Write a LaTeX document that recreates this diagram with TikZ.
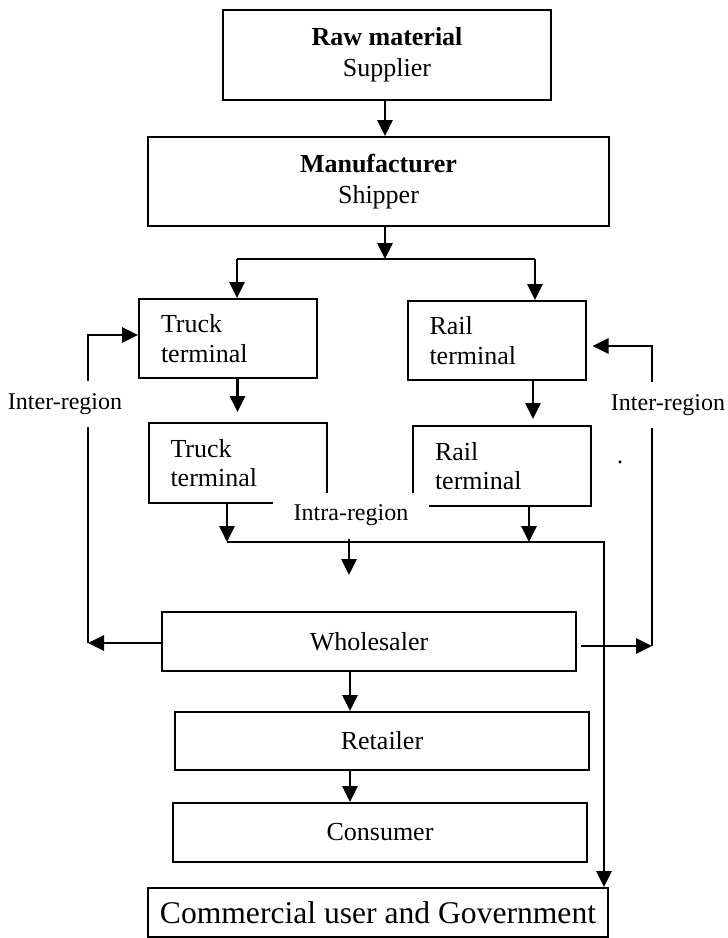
\documentclass[tikz,border=0pt]{standalone}
\usepackage{fontspec}
\setmainfont{Liberation Serif}
\usetikzlibrary{arrows.meta,backgrounds}
\begin{document}
\begin{tikzpicture}[x=0.5pt,y=-0.5pt,
  box/.style={draw,line width=1pt,inner sep=0pt,font=\fontsize{13}{15.5}\selectfont,align=center},
  termbox/.style={box,align=left,text width=67pt,inner xsep=11pt,inner ysep=0pt,
    minimum height=39.5pt,font=\fontsize{13}{14.8}\selectfont},
  lab/.style={font=\fontsize{12}{14}\selectfont,fill=white,inner xsep=1pt,inner ysep=0pt},
  conn/.style={line width=1.35pt},
  arr/.style={conn,-{Triangle[length=8pt,width=7.5pt]}}]
\useasboundingbox (0,0) rectangle (728,938);

% boxes
\node[box,minimum width=164pt,minimum height=45pt] (raw) at (387,55)
  {\textbf{Raw material}\\Supplier};
\node[box,minimum width=230.5pt,minimum height=44.5pt] (man) at (378.5,181.5)
  {\textbf{Manufacturer}\\Shipper};
\node[termbox] (t1) at (228,338.5) {Truck\\terminal};
\node[termbox,minimum height=40pt] (t2) at (237.5,463) {Truck\\terminal};
\node[termbox] (r1) at (496.5,340.5) {Rail\\terminal};
\node[termbox,minimum height=40pt] (r2) at (502,466) {Rail\\terminal};
\node[box,minimum width=207pt,minimum height=29.5pt] (wh) at (369,641.5) {Wholesaler};
\node[box,minimum width=207pt,minimum height=29pt] (ret) at (382,741) {Retailer};
\node[box,minimum width=207pt,minimum height=29.5pt] (con) at (380,832.5) {Consumer};
\node[box,minimum width=230pt,minimum height=24.5pt,font=\fontsize{15.8}{18}\selectfont]
  (com) at (378,912.5) {Commercial user and Government};

% labels
\node[lab,minimum width=78pt,minimum height=23pt] (intra) at (351,515.5) {Intra-region};
\node[lab,minimum height=23pt] (linter) at (65,404) {Inter-region};
\node[lab,minimum height=23pt] (rinter) at (668,405) {Inter-region};
\node[font=\fontsize{12}{14}\selectfont,inner sep=0pt] (dot) at (620,462) {.};

% coordinates
\coordinate (sp) at (385,259);
\coordinate (sl) at (237,259);
\coordinate (sr) at (535,259);
\coordinate (rr) at (533,0);
\coordinate (j1) at (227,542);
\coordinate (j3) at (529,542);
\coordinate (j2) at (604,542);
\coordinate (ie) at (349,575);
\coordinate (cx) at (350,0);
\coordinate (lb) at (88,643);
\coordinate (lt) at (88,335);
\coordinate (rb) at (652,646);
\coordinate (rt) at (652,346);

% connectors
\draw[arr] (raw.south -| sp) -- (sp |- man.north);
\draw[arr] (sp |- man.south) -- (sp);
\draw[conn] (sl) -- (sr);
\draw[arr] (sl) -- (sl |- t1.north);
\draw[arr] (sr) -- (sr |- r1.north);
\draw[arr,shorten >=5pt] (t1.south -| t2.north) -- (t2.north);
\draw[arr,shorten >=3pt] (rr |- r1.south) -- (rr |- r2.north);
\draw[arr] (j1 |- t2.south) -- (j1);
\draw[arr] (j3 |- r2.south) -- (j3);
\draw[arr] (j1) -- (j2) -- (j2 |- com.north);
\draw[arr] (intra.south -| ie) -- (ie);
\draw[arr] (cx |- wh.south) -- (cx |- ret.north);
\draw[arr] (cx |- ret.south) -- (cx |- con.north);

\begin{scope}[on background layer]
\draw[arr] (wh.west |- lb) -- (lb);
\draw[arr] (lb) -- (lt) -- (lt -| t1.west);
\draw[arr,shorten <=2pt] (wh.east |- rb) -- (rb);
\draw[arr,shorten >=3pt] (rb) -- (rt) -- (rt -| r1.east);
\end{scope}
\end{tikzpicture}
\end{document}
